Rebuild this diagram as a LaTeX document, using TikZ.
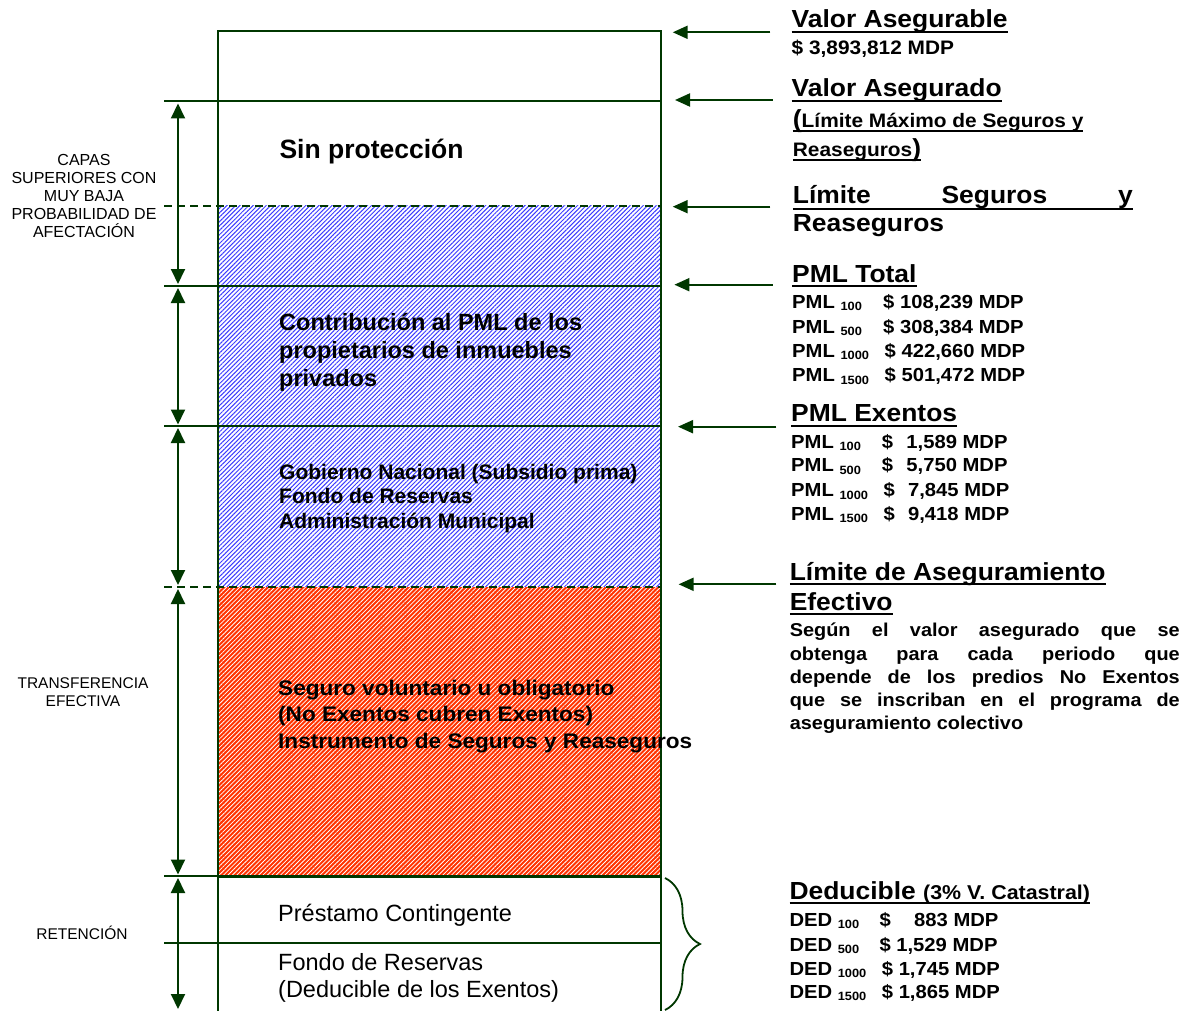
\documentclass[tikz,border=0pt]{standalone}
\usepackage{fontspec}
\setmainfont{Liberation Sans}
\newfontfamily\bfn{Liberation Sans}
\newfontfamily\bfs{Liberation Sans}[FakeStretch=1.07]
\usetikzlibrary{arrows.meta,patterns.meta,decorations.pathreplacing}
\definecolor{dg}{RGB}{0,55,0}
\definecolor{hblue}{RGB}{60,60,255}
\definecolor{hred}{RGB}{255,51,0}
\newsavebox\ulb
\newcommand\myul[2]{\sbox\ulb{#2}\rlap{\rule[\dimexpr-#1-1pt\relax]{\wd\ulb}{2pt}}\usebox\ulb}
\newcommand\fsz[2]{\fontsize{#1}{#2}\selectfont}
\newcommand\fhead{\bfs\bfseries\fsz{24.7}{28}}
\newcommand\fval{\bfs\bfseries\fsz{19.5}{22}}
\newcommand\frow{\bfs\bfseries\fsz{18.9}{24}}
\newcommand\fsub{\fsz{12}{13}}
\newcommand\fpar{\bfs\bfseries\fsz{18.6}{23.3}}
\newcommand\prow[4]{\makebox[#1][l]{#2\raisebox{-2.5pt}{\fsub #3}}#4}
\begin{document}
\begin{tikzpicture}[x=1pt,y=-1pt,
  boxline/.style={draw=dg, line width=1.8pt},
  hline/.style={draw=dg, line width=1.6pt},
  dline/.style={draw=dg, line width=1.6pt, dash pattern=on 8pt off 5pt},
  ptr/.style={draw=dg, line width=2pt, -{Triangle[length=15pt,width=13pt]}},
  dbl/.style={draw=dg, line width=2pt, {Triangle[length=15pt,width=14pt]}-{Triangle[length=15pt,width=14pt]}},
  lab/.style={inner sep=0pt, anchor=base west},
  clab/.style={inner sep=0pt, anchor=base, align=center}]
\useasboundingbox (0,0) rectangle (1197,1011);
% hatched layers
\fill[pattern={Lines[angle=45,distance=3.1pt,line width=1pt]}, pattern color=hblue] (218,206) rectangle (661,587);
\fill[hred] (218,587) rectangle (661,876);
\fill[pattern={Lines[angle=45,distance=3.1pt,line width=0.8pt]}, pattern color=white] (218,587) rectangle (661,876);
% box and layer lines
\draw[boxline] (218,1011) -- (218,31) -- (661,31) -- (661,1011);
\draw[hline] (164,101) -- (661,101);
\draw[dline] (164,206) -- (661,206);
\draw[hline] (164,286) -- (661,286);
\draw[hline] (164,426) -- (661,426);
\draw[dline] (164,587) -- (661,587);
\draw[hline] (164,876) -- (218,876);
\draw[draw=dg, line width=3pt] (218,876) -- (661,876);
\draw[hline] (164,943) -- (661,943);
% left double arrows
\coordinate (b1t) at (178,103.5); \coordinate (b1b) at (178,284);
\coordinate (b2t) at (178,288);   \coordinate (b2b) at (178,424.5);
\coordinate (b3t) at (178,428);   \coordinate (b3b) at (178,585);
\coordinate (b4t) at (178,589);   \coordinate (b4b) at (178,874.5);
\coordinate (b5t) at (178,878);   \coordinate (b5b) at (178,1009);
\draw[dbl] (b1t) -- (b1b);
\draw[dbl] (b2t) -- (b2b);
\draw[dbl] (b3t) -- (b3b);
\draw[dbl] (b4t) -- (b4b);
\draw[dbl] (b5t) -- (b5b);
% right pointers
\coordinate (a1s) at (770.4,32.3);  \coordinate (a1e) at (672.7,32.3);
\coordinate (a2s) at (772.8,100);   \coordinate (a2e) at (675,100);
\coordinate (a3s) at (770.4,206.7); \coordinate (a3e) at (672.7,206.7);
\coordinate (a4s) at (772.8,284.7); \coordinate (a4e) at (674.4,284.7);
\coordinate (a5s) at (776.3,426.7); \coordinate (a5e) at (678,426.7);
\coordinate (a6s) at (776.3,584.3); \coordinate (a6e) at (678.6,584.3);
\draw[ptr] (a1s) -- (a1e);
\draw[ptr] (a2s) -- (a2e);
\draw[ptr] (a3s) -- (a3e);
\draw[ptr] (a4s) -- (a4e);
\draw[ptr] (a5s) -- (a5e);
\draw[ptr] (a6s) -- (a6e);
% brace
\coordinate (brt) at (665,878); \coordinate (brb) at (665,1010);
\draw[draw=dg, line width=1.8pt, decorate, decoration={brace, amplitude=35pt}] (brt) -- (brb);
% left labels (base = last line)
\node[clab, font=\fsz{16}{18}] (capas) at (84,237.7) {CAPAS\\SUPERIORES CON\\MUY BAJA\\PROBABILIDAD DE\\AFECTACIÓN};
\node[clab, font=\fsz{15.5}{17.7}] (trans) at (83,706) {TRANSFERENCIA\\EFECTIVA};
\node[clab, font=\fsz{15.5}{17.7}] (ret) at (82,939.3) {RETENCIÓN};
% layer texts (base = last line)
\node[lab, font=\bfn\bfseries\fsz{26.5}{30}] (sinp) at (279.3,158.3) {Sin protección};
\node[lab, align=left, font=\bfn\bfseries\fsz{23.5}{28}] (contrib) at (279,386) {Contribución al PML de los\\propietarios de inmuebles\\privados};
\node[lab, align=left, font=\bfn\bfseries\fsz{21}{24.5}] (gob) at (279,528.3) {Gobierno Nacional (Subsidio prima)\\Fondo de Reservas\\Administración Municipal};
\node[lab, align=left, font=\bfs\bfseries\fsz{21.1}{26.7}] (seg) at (278,748.4) {Seguro voluntario u obligatorio\\(No Exentos cubren Exentos)\\Instrumento de Seguros y Reaseguros};
\node[lab, font=\fsz{23.5}{27}] (prest) at (278,921) {Préstamo Contingente};
\node[lab, align=left, font=\fsz{23.5}{26.7}] (fondo) at (278,997.5) {Fondo de Reservas\\(Deducible de los Exentos)};
% right texts
\node[lab, font=\fhead] (va) at (791.5,27.3) {\myul{4.5pt}{Valor Asegurable}};
\node[lab, font=\fval] (vav) at (791.5,55) {\$ 3,893,812 MDP};
\node[lab, font=\fhead] (vado) at (791.5,96.7) {\myul{4.5pt}{Valor Asegurado}};
\node[lab, font=\fval] (lim1) at (792.7,127.7) {\myul{3.3pt}{{\fhead(}Límite Máximo de Seguros y}};
\node[lab, font=\fval] (lim2) at (792.7,156.7) {\myul{3.3pt}{Reaseguros{\fhead)}}};
\node[lab, font=\fhead] (lsr) at (792.7,204) {\myul{5pt}{\hbox to 340pt{Límite\hfill Seguros\hfill y}}};
\node[lab, font=\fhead] (lsr2) at (792.7,231.7) {Reaseguros};
\node[lab, font=\fhead] (pmlt) at (792,282.3) {\myul{4pt}{PML Total}};
\node[lab, font=\frow] (pt1) at (792,308.3) {\prow{91pt}{PML }{100}{\$ 108,239 MDP}};
\node[lab, font=\frow] (pt2) at (792,333.3) {\prow{91pt}{PML }{500}{\$ 308,384 MDP}};
\node[lab, font=\frow] (pt3) at (792,357.3) {\prow{92.5pt}{PML }{1000}{\$ 422,660 MDP}};
\node[lab, font=\frow] (pt4) at (792,381.7) {\prow{92.5pt}{PML }{1500}{\$ 501,472 MDP}};
\node[lab, font=\fhead] (pmle) at (791,421.7) {\myul{4pt}{PML Exentos}};
\node[lab, font=\frow] (pe1) at (791,448.3) {\prow{90.7pt}{PML }{100}{\makebox[24.5pt][l]{\$}1,589 MDP}};
\node[lab, font=\frow] (pe2) at (791,471.7) {\prow{90.7pt}{PML }{500}{\makebox[24.5pt][l]{\$}5,750 MDP}};
\node[lab, font=\frow] (pe3) at (791,496.7) {\prow{92.4pt}{PML }{1000}{\makebox[24.5pt][l]{\$}7,845 MDP}};
\node[lab, font=\frow] (pe4) at (791,520) {\prow{92.4pt}{PML }{1500}{\makebox[24.5pt][l]{\$}9,418 MDP}};
\node[lab, font=\fhead] (lae) at (789.6,580) {\myul{4pt}{Límite de Aseguramiento}};
\node[lab, font=\fhead] (efe) at (789.6,610) {\myul{4pt}{Efectivo}};
\node[lab, text width=390pt, align=justify, font=\fpar] (par) at (789.6,636.7) {Según el valor asegurado que se\linebreak obtenga para cada periodo que\linebreak depende de los predios No Exentos\linebreak que se inscriban en el programa de\linebreak aseguramiento colectivo};
\node[lab, font=\fhead] (ded) at (789.3,899.5) {\myul{3.5pt}{Deducible {\fval\fsz{20}{22}(3\% V. Catastral)}}};
\node[lab, font=\frow] (d1) at (789.3,926) {\prow{90pt}{DED }{100}{\makebox[34.7pt][l]{\$}883 MDP}};
\node[lab, font=\frow] (d2) at (789.3,951) {\prow{90pt}{DED }{500}{\$ 1,529 MDP}};
\node[lab, font=\frow] (d3) at (789.3,975) {\prow{92.4pt}{DED }{1000}{\$ 1,745 MDP}};
\node[lab, font=\frow] (d4) at (789.3,998.3) {\prow{92.4pt}{DED }{1500}{\$ 1,865 MDP}};
\end{tikzpicture}
\end{document}
